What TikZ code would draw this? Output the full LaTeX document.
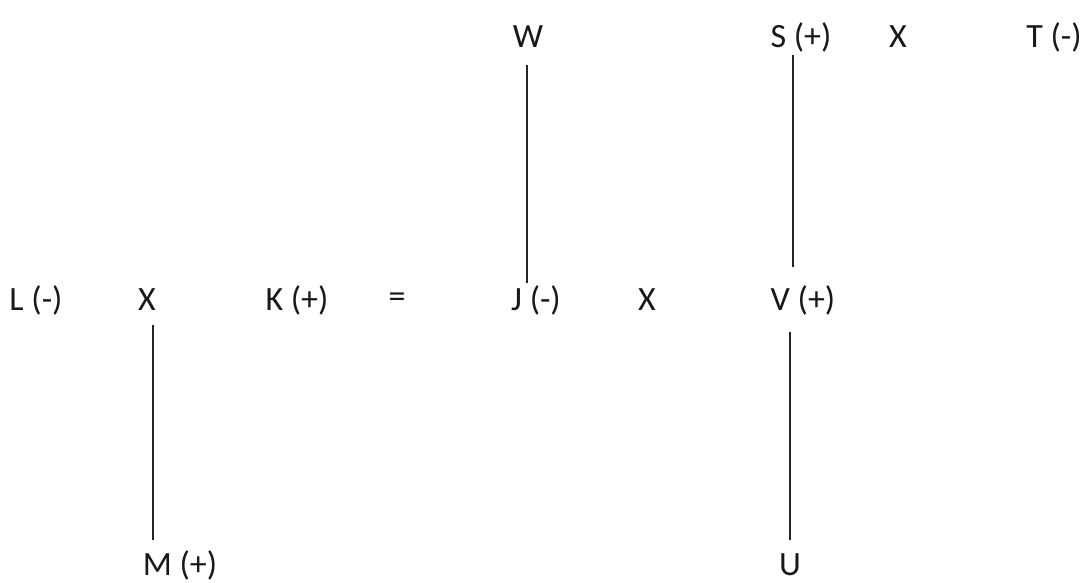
\documentclass[tikz,border=0pt]{standalone}
\usepackage{fontspec}
\setmainfont{Carlito}
\tikzset{
  lbl/.style={inner sep=0pt, font=\fontsize{34}{38}\selectfont, text=black!90},
  link/.style={line width=1.3pt, black!85}
}
\begin{document}
\begin{tikzpicture}[x=1pt,y=-1pt]
\useasboundingbox[fill=white] (0,0) rectangle (1082,583);
% top row
\node[lbl] (W) at (528,37) {W};
\node[lbl] (S) at (801,37) {S (+)};
\node[lbl] (X3) at (898,37) {X};
\node[lbl] (T) at (1054,37) {T (-)};
% middle row
\node[lbl] (L) at (36,300) {L (-)};
\node[lbl] (X1) at (147,300) {X};
\node[lbl] (K) at (297,300) {K (+)};
\node[lbl] (EQ) at (397,300) {=};
\node[lbl] (J) at (536,300) {J (-)};
\node[lbl] (X2) at (647,300) {X};
\node[lbl] (V) at (803,300) {V (+)};
% bottom row
\node[lbl] (M) at (180,565) {M (+)};
\node[lbl] (U) at (790,565) {U};
% connector end points
\coordinate (w1) at (527,65);
\coordinate (w2) at (527,283);
\coordinate (s1) at (793,55);
\coordinate (s2) at (793,267);
\coordinate (x1) at (153,325);
\coordinate (x2) at (153,540);
\coordinate (v1) at (790,332);
\coordinate (v2) at (790,540);
\draw[link] (w1) -- (w2);
\draw[link] (s1) -- (s2);
\draw[link] (x1) -- (x2);
\draw[link] (v1) -- (v2);
\end{tikzpicture}
\end{document}
